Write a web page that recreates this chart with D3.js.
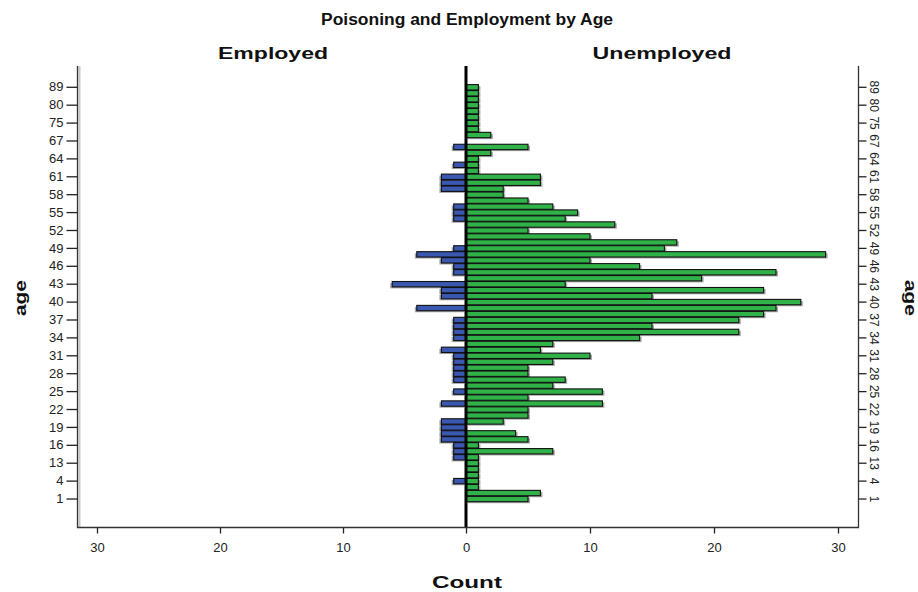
<!DOCTYPE html>
<html><head><meta charset="utf-8">
<script src="https://cdn.jsdelivr.net/npm/d3@7"></script>
<style>body{margin:0;background:#fff} svg{display:block;font-family:"Liberation Sans",Arial,sans-serif}</style>
</head><body><svg id="c" width="918" height="592"></svg>
<script>
// ---- data (ascending age) ----
const ages = [1,2,3,4,7,12,13,14,15,16,17,18,19,20,21,22,23,24,25,26,27,28,29,30,31,32,33,34,35,36,37,38,39,40,41,42,43,44,45,46,47,48,49,50,51,52,53,54,55,56,57,58,59,60,61,62,63,64,65,66,67,68,70,75,76,78,80,82,85,89];
const employed = [0,0,0,1,0,0,0,1,1,1, 2,2,2,2,0,0,2,0,1,0, 1,1,1,1,1,2,0,1,1,1, 1,0,4,0,2,2,6,0,1,1, 2,4,1,0,0,0,0,1,1,1, 0,0,2,2,2,0,1,0,0,1, 0,0,0,0,0,0,0,0,0,0];
const unemployed = [5,6,1,1,1,1,1,1,7,1, 5,4,0,3,5,5,11,5,11,7, 8,5,5,7,10,6,7,14,22,15, 22,24,25,27,15,24,8,19,25,14, 10,29,16,17,10,5,12,8,9,7, 5,3,3,6,6,1,1,1,2,5, 0,2,1,1,1,1,1,1,1,1];
const ageTickLabels = ages.filter((d,i) => i % 3 === 0);
const countTicks = [0,10,20,30];
const titleText = "Poisoning and Employment by Age";
const groupLabels = ["Employed","Unemployed"];
const axisTitleX = "Count";
const axisTitleY = "age";

// ---- layout ----
const svg = d3.select("#c");
const pTop = 66, pBottom = 527, pLeft = 78, pRight = 858, zero = 466;
const xL = d3.scaleLinear().domain([0,30]).range([zero, 97]);
const xR = d3.scaleLinear().domain([0,30]).range([zero, 838]);
const y = d3.scaleBand().domain(ages).range([502, 84.3]).paddingInner(0.1).paddingOuter(0.05);
const blue = "#3a58b0", green = "#31b249";

const rows = ages.map((a,i) => ({age:a, e:employed[i], u:unemployed[i]}));

// shadows
const sh = svg.append("g").attr("fill","#8a8a8a").attr("opacity",0.75);
sh.selectAll("rect.l").data(rows.filter(d=>d.e>0)).join("rect").attr("class","l")
  .attr("x", d => xL(d.e)-2).attr("y", d => y(d.age)+1.5)
  .attr("width", d => zero - xL(d.e)).attr("height", y.bandwidth());
sh.selectAll("rect.r").data(rows.filter(d=>d.u>0)).join("rect").attr("class","r")
  .attr("x", zero+2).attr("y", d => y(d.age)+1.5)
  .attr("width", d => xR(d.u)-zero).attr("height", y.bandwidth());

// bars
const bars = svg.append("g").attr("stroke","#111").attr("stroke-width",1.1);
bars.selectAll("rect.l").data(rows.filter(d=>d.e>0)).join("rect").attr("class","l")
  .attr("fill", blue)
  .attr("x", d => xL(d.e)).attr("y", d => y(d.age))
  .attr("width", d => zero - xL(d.e)).attr("height", y.bandwidth());
bars.selectAll("rect.r").data(rows.filter(d=>d.u>0)).join("rect").attr("class","r")
  .attr("fill", green)
  .attr("x", zero).attr("y", d => y(d.age))
  .attr("width", d => xR(d.u)-zero).attr("height", y.bandwidth());

// zero line
svg.append("line").attr("x1",zero).attr("x2",zero).attr("y1",pTop).attr("y2",pBottom)
  .attr("stroke","#000").attr("stroke-width",3);

// frame
svg.append("line").attr("x1",79.5).attr("x2",79.5).attr("y1",pTop).attr("y2",pBottom).attr("stroke","#c8c8c8").attr("stroke-width",2);
svg.append("path").attr("d",`M${pLeft-0.5},${pTop}V${pBottom+0.5}H${pRight+0.5}V${pTop}`)
  .attr("fill","none").attr("stroke","#333").attr("stroke-width",1.3);

// left axis
const ga = svg.append("g").attr("transform",`translate(${pLeft-0.5},0)`)
  .call(d3.axisLeft(y).tickValues(ageTickLabels).tickSize(11).tickPadding(3));
ga.select(".domain").remove();
ga.selectAll("line").attr("stroke","#222").attr("stroke-width",1.3);
ga.selectAll("text").attr("font-size",13).attr("fill","#222").attr("font-family","Liberation Sans, Arial, sans-serif");

// right axis
const gr = svg.append("g").attr("transform",`translate(${pRight+0.5},0)`)
  .call(d3.axisRight(y).tickValues(ageTickLabels).tickSize(8));
gr.select(".domain").remove();
gr.selectAll("line").attr("stroke","#222").attr("stroke-width",1.3);
gr.selectAll("text").attr("font-size",12).attr("fill","#222").attr("font-family","Liberation Sans, Arial, sans-serif")
  .attr("x",0).attr("dy",0).attr("text-anchor","middle").attr("dominant-baseline","middle")
  .attr("transform","translate(15,0) rotate(90)");

// bottom axes
const gb1 = svg.append("g").attr("transform",`translate(0,${pBottom+0.5})`)
  .call(d3.axisBottom(xL).tickValues(countTicks.slice(1)).tickSize(6).tickPadding(9));
const gb2 = svg.append("g").attr("transform",`translate(0,${pBottom+0.5})`)
  .call(d3.axisBottom(xR).tickValues(countTicks).tickSize(6).tickPadding(9));
[gb1,gb2].forEach(g => {
  g.select(".domain").remove();
  g.selectAll("line").attr("stroke","#222").attr("stroke-width",1.3);
  g.selectAll("text").attr("font-size",13).attr("fill","#222").attr("font-family","Liberation Sans, Arial, sans-serif");
});

// titles
function label(txt, x, yy, size, len, rot) {
  const t = svg.append("text").text(txt)
    .attr("text-anchor","middle").attr("font-weight","bold").attr("font-size",size).attr("fill","#111")
    .attr("textLength",len).attr("lengthAdjust","spacingAndGlyphs");
  if (rot) t.attr("transform",`translate(${x},${yy}) rotate(${rot})`);
  else t.attr("x",x).attr("y",yy);
  return t;
}
label(titleText, 467, 25, 16, 292);
label(groupLabels[0], 273, 59, 16, 110);
label(groupLabels[1], 662, 59, 16, 139);
label(axisTitleX, 467, 588, 16, 70);
label(axisTitleY, 26, 298, 16, 36, -90);
label(axisTitleY, 905, 298, 16, 36, 90);
</script></body></html>
